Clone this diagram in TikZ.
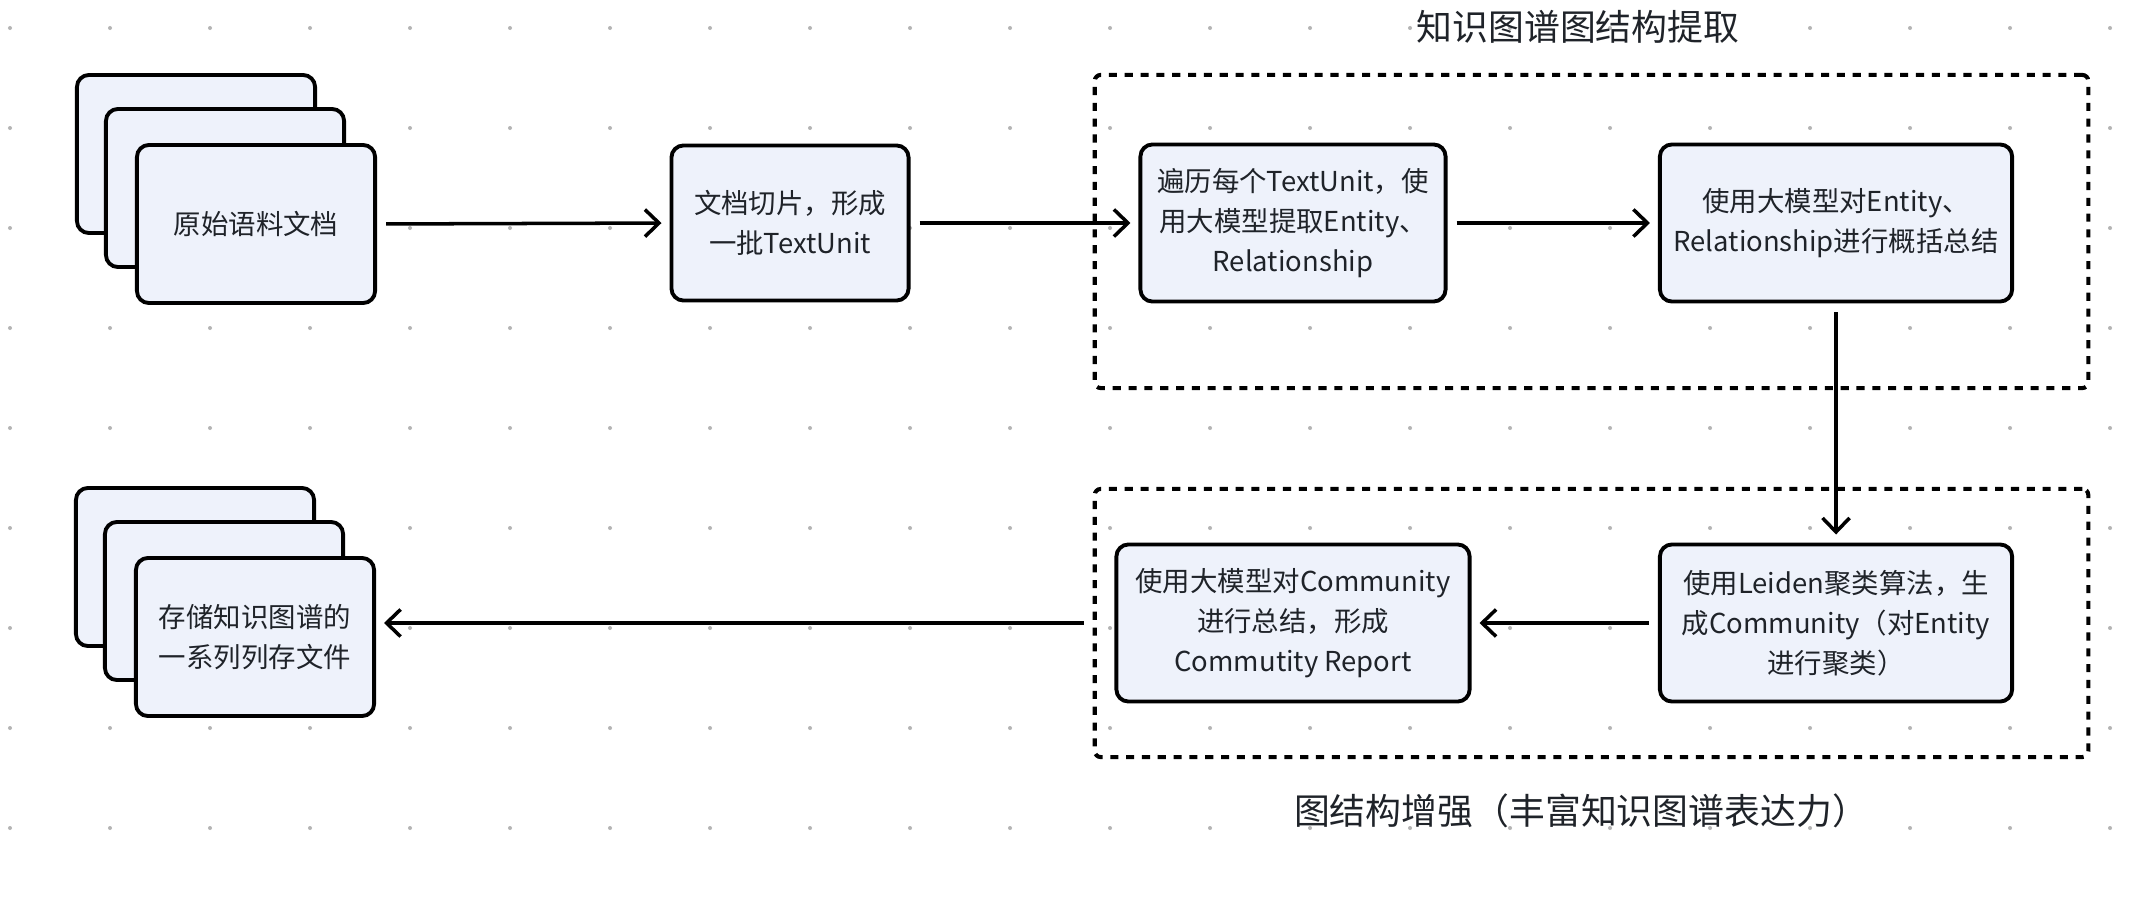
\documentclass[tikz,border=0pt]{standalone}
\usepackage{fontspec}
\setmainfont{Noto Sans CJK SC}
\usetikzlibrary{arrows.meta}
\definecolor{cardfill}{HTML}{EEF2FB}
\definecolor{inkgray}{HTML}{1F2329}
\definecolor{gridgray}{HTML}{B4B4B4}
\tikzset{
  card/.style={draw=black, fill=cardfill, line width=1.1pt, rounded corners=0.12cm,
    minimum width=2.38cm, minimum height=1.58cm, inner sep=0pt, align=center,
    text=inkgray, font=\fontsize{7.8}{11.4}\selectfont},
  flow/.style={-{Straight Barb[length=1.4mm,width=2.7mm]}, line width=1pt,
    shorten <=0.09cm, shorten >=0.08cm},
  region/.style={draw=black, line width=1.15pt, dash pattern=on 2.3pt off 2.2pt,
    rounded corners=0.06cm, minimum width=9.93cm, inner sep=0pt},
  caption/.style={text=inkgray, font=\fontsize{10.2}{12}\selectfont},
}
\newcommand{\docstack}[4]{%
  \begin{scope}[shift={(#2,#3)}]
    \node[card] (#1-back) at (-60,-70) {};
    \node[card] (#1-mid) at (-31,-36) {};
    \node[card] (#1) at (0,0) {#4};
  \end{scope}
}

\begin{document}
\begin{tikzpicture}[x=0.01cm, y=-0.01cm]
  \useasboundingbox (0,0) rectangle (2134,900);
  \fill[white] (0,0) rectangle (2134,900);

  % dot grid
  \foreach \gx in {10,110,...,2110}
    \foreach \gy in {28,128,...,828}
      \fill[gridgray] (\gx,\gy) circle (0.02cm);

  % regions
  \node[region, minimum height=3.13cm] (extract) at (1591.5,231.5) {};
  \node[region, minimum height=2.68cm] (enhance) at (1591.5,623) {};
  \node[caption] (extract-title) at (1578,27) {知识图谱图结构提取};
  \node[caption] (enhance-title) at (1581,811) {图结构增强（丰富知识图谱表达力）};

  % Row 1
  \docstack{source}{256}{224}{原始语料文档}
  \node[card, minimum width=2.37cm, minimum height=1.55cm] (slice) at (790,223)
    {文档切片，形成\\一批TextUnit};
  \node[card, minimum width=3.05cm, minimum height=1.57cm] (scan) at (1293,223)
    {遍历每个TextUnit，使\\用大模型提取Entity、\\Relationship};
  \node[card, minimum width=3.52cm, minimum height=1.57cm] (summ) at (1836,223)
    {使用大模型对Entity、\\Relationship进行概括总结};

  % Row 2
  \node[card, minimum width=3.52cm, minimum height=1.57cm] (leiden) at (1836,623)
    {使用Leiden聚类算法，生\\成Community（对Entity\\进行聚类）};
  \node[card, minimum width=3.53cm, minimum height=1.57cm] (report) at (1293,623)
    {使用大模型对Community\\进行总结，形成\\Commutity Report};
  \docstack{store}{255}{637}{存储知识图谱的\\一系列列存文件}

  % connectors
  \draw[flow] (source.east) -- (slice.west);
  \draw[flow] (slice.east) -- (scan.west);
  \draw[flow] (scan.east) -- (summ.west);
  \draw[flow] (summ.south) -- (leiden.north);
  \draw[flow] (leiden.west) -- (report.east);
  \draw[flow] (enhance.west) -- (enhance.west -| store.east);
\end{tikzpicture}
\end{document}
